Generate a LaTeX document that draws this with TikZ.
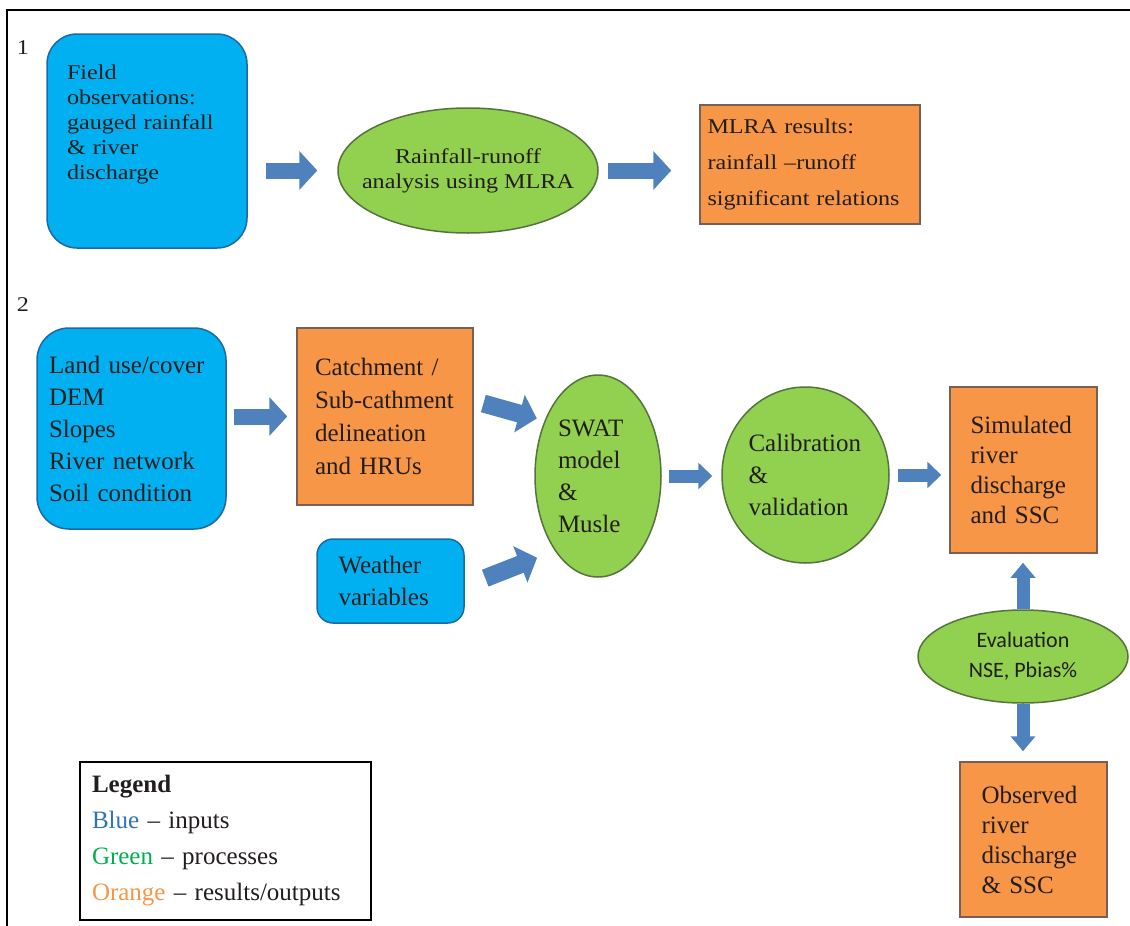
\documentclass[tikz,border=0pt]{standalone}
\usepackage{fontspec}
\usepackage{amsmath}
\usetikzlibrary{shapes.geometric,arrows.meta}
\setmainfont{Liberation Serif}
\newfontfamily\wideserif[FakeStretch=1.15,Ligatures=TeX]{Liberation Serif}
\newfontfamily\evalfont{Carlito}

\definecolor{inblue}{RGB}{0,176,240}
\definecolor{inedge}{RGB}{30,105,165}
\definecolor{prgreen}{RGB}{146,208,80}
\definecolor{predge}{RGB}{85,115,60}
\definecolor{outorange}{RGB}{247,150,70}
\definecolor{outedge}{RGB}{120,95,85}
\definecolor{arrblue}{RGB}{79,129,189}
\definecolor{txt}{RGB}{35,30,30}
\definecolor{legblue}{RGB}{46,117,182}
\definecolor{leggreen}{RGB}{0,176,80}

\begin{document}
\begin{tikzpicture}[x=1pt,y=-1pt,
  inbox/.style={draw=inedge,fill=inblue,line width=1.5pt,inner sep=0pt,align=left,text=txt},
  outbox/.style={draw=outedge,fill=outorange,line width=1.5pt,inner sep=0pt,align=left,text=txt},
  procell/.style={ellipse,draw=predge,fill=prgreen,line width=1.5pt,inner sep=0pt,text=txt},
  secone/.style={font=\wideserif\fontsize{21}{25}\selectfont},
  sectwo/.style={font=\fontsize{25}{32}\selectfont},
  bigarrow/.style={draw=arrblue,line width=16pt,-{Triangle[width=38pt,length=18pt]}},
  smallarrow/.style={draw=arrblue,line width=13pt,-{Triangle[width=26pt,length=14pt]}}]
\useasboundingbox (0,0) rectangle (1130,926);
\draw[line width=2pt] (7,926) -- (7,10) -- (1130,10);

% part 1
\node[secone,text=txt] (one) at (23,48) {1};
\node[inbox,secone,rounded corners=30pt,minimum width=200pt,minimum height=214pt,text width=160pt]
  (field) at (147,141) {Field\\observations:\\gauged rainfall\\\& river\\discharge\\[13pt]\mbox{}};
\node[procell,secone,align=center,inner xsep=-25pt,minimum width=260pt,minimum height=125pt]
  (rain) at (468,170.5) {Rainfall-runoff\\analysis using MLRA};
\node[outbox,font=\wideserif\fontsize{21}{36}\selectfont,minimum width=220pt,minimum height=119pt,text width=205pt]
  (mlra) at (810,164.5) {MLRA results:\\rainfall \textendash runoff\\significant relations};

\draw[bigarrow,shorten <=18pt,shorten >=20pt] (field.east |- rain.west) -- (rain.west);
\draw[bigarrow,shorten <=9pt,shorten >=28pt] (rain.east) -- (rain.east -| mlra.west);

% part 2
\node[secone,text=txt] (two) at (23,305) {2};
\node[inbox,sectwo,rounded corners=32pt,minimum width=189pt,minimum height=201pt,text width=165pt]
  (land) at (131.5,428.5) {Land use/cover\\DEM\\Slopes\\River network\\Soil condition};
\node[outbox,font=\fontsize{25}{33}\selectfont,minimum width=176pt,minimum height=177pt,text width=140pt]
  (catch) at (385,416.5) {Catchment /\\Sub-cathment\\delineation\\and HRUs};
\node[inbox,sectwo,rounded corners=16pt,minimum width=147pt,minimum height=84pt,text width=104pt]
  (weather) at (390.5,581) {Weather\\variables};
\node[procell,sectwo,align=left,text width=80pt,minimum width=126pt,minimum height=202pt]
  (swat) at (598,476) {SWAT\\model\\\&\\Musle};
\node[procell,sectwo,align=left,text width=114pt,minimum width=167pt,minimum height=176pt]
  (calib) at (805.5,475) {Calibration\\\&\\validation};
\node[outbox,font=\fontsize{25}{30}\selectfont,minimum width=147pt,minimum height=166pt,text width=106pt]
  (sim) at (1023.5,470) {Simulated\\river\\discharge\\and SSC};
\node[procell,font=\evalfont\fontsize{22}{30}\selectfont,align=center,minimum width=210pt,minimum height=93pt]
  (eval) at (1023,656.5) {Evaluation\\NSE, Pbias\%};
\node[outbox,font=\fontsize{25}{30}\selectfont,minimum width=147pt,minimum height=155pt,text width=104pt]
  (obs) at (1033.5,839.5) {Observed\\river\\discharge\\\& SSC};

\draw[bigarrow,shorten <=7pt,shorten >=9pt] (land.east |- catch.west) -- (catch.west);
\draw[bigarrow,line width=18pt,shorten <=10pt,shorten >=8pt] (catch.10.6) -- (swat.134);
\draw[bigarrow,line width=18pt,shorten <=22pt,shorten >=19pt] (weather.-4.3) -- (swat.240);
\draw[smallarrow,shorten <=7pt,shorten >=9pt] (swat.east) -- (swat.east -| calib.west);
\draw[smallarrow,shorten <=8pt,shorten >=8pt] (calib.east) -- (calib.east -| sim.west);
\draw[smallarrow,-{Triangle[width=24pt,length=15pt]},shorten >=9pt] (eval.north) -- (eval.north |- sim.south);
\draw[smallarrow,-{Triangle[width=24pt,length=15pt]},shorten >=10pt] (eval.south) -- (eval.south |- obs.north);

% legend
\node[draw=black,fill=white,line width=2pt,anchor=north west,inner sep=12pt,align=left,
  font=\fontsize{25}{36}\selectfont,text=txt,minimum width=291pt,minimum height=158pt,text width=267pt]
  (legend) at (79,761) {\textbf{Legend}\\\textcolor{legblue}{Blue} -- inputs\\
  \textcolor{leggreen}{Green} -- processes\\\textcolor{outorange}{Orange} -- results/outputs};
\end{tikzpicture}
\end{document}
